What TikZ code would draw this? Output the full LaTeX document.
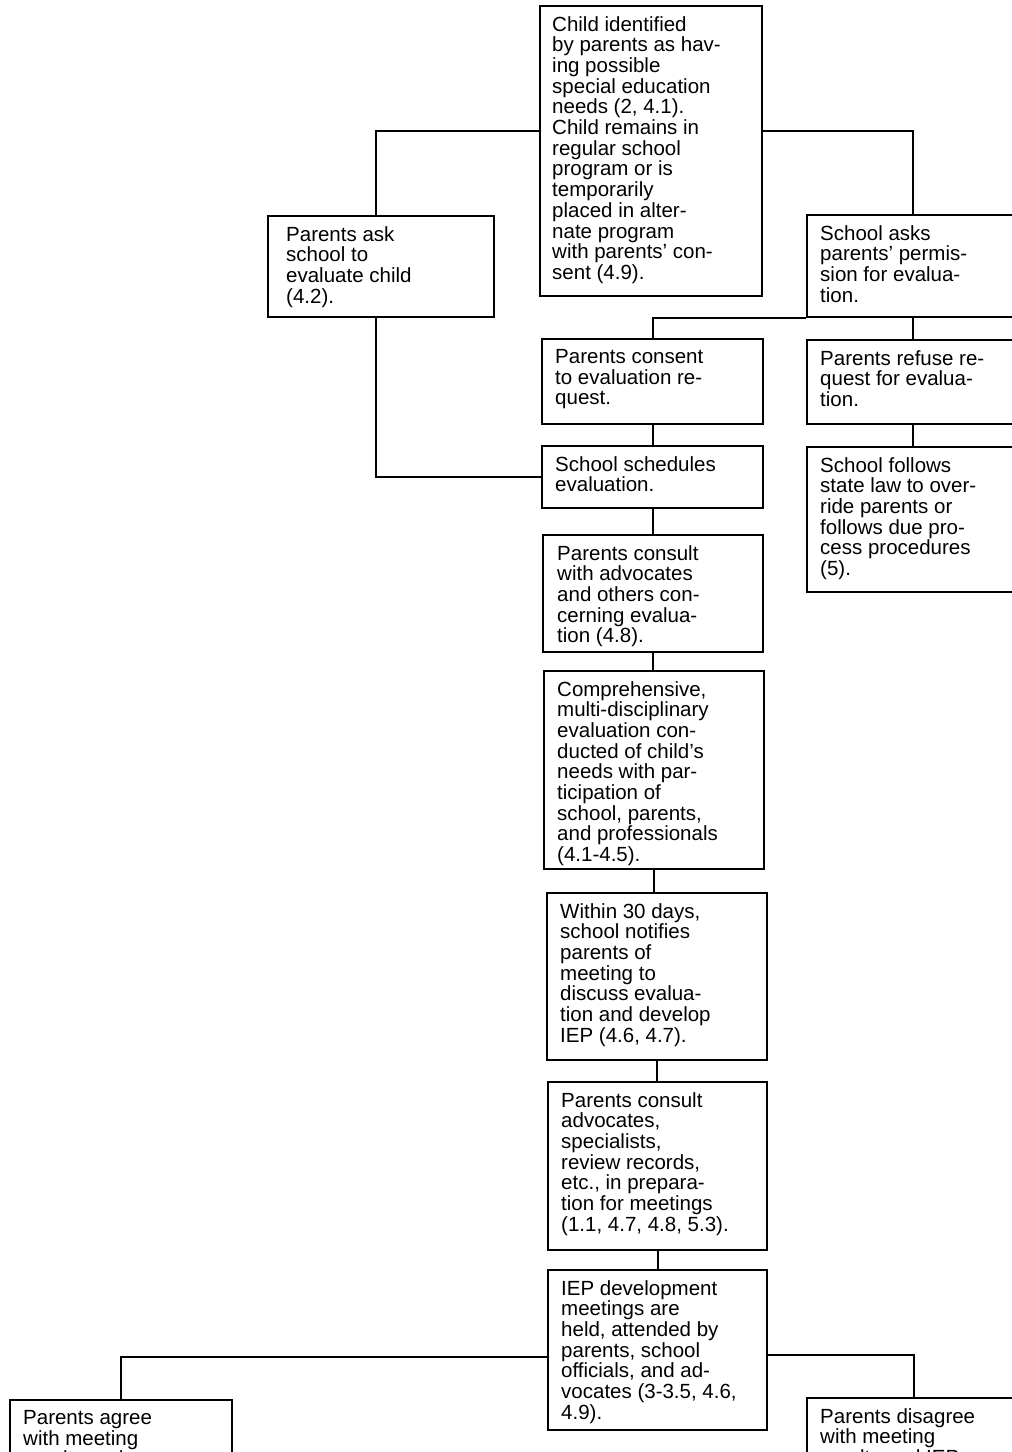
\documentclass[tikz,border=0pt]{standalone}
\usepackage{fontspec}
\setmainfont{Liberation Sans}
\newcommand\boxfont{\fontsize{20.5}{20.7}\selectfont\lineskiplimit=-30pt\relax}
\tikzset{
  box/.style={draw=black, line width=2.2pt, fill=none, inner sep=0pt, anchor=north west},
  txt/.style={inner sep=0pt, anchor=north west, align=left, font=\boxfont},
  link/.style={draw=black, line width=2.2pt},
}
\newcommand\flowbox[7]{%
  \node[box, minimum width=#4pt, minimum height=#5pt] (#1) at (#2,#3) {};
  \node[txt] (#1-t) at ([shift={(#6pt,-11pt)}]#1.north west) {#7};}
\begin{document}
\begin{tikzpicture}[x=1pt,y=-1pt]
\useasboundingbox[fill=white] (0,0) rectangle (1012,1452);
\clip (0,0) rectangle (1012,1452);

\flowbox{top}{539}{5}{222}{290}{13}{Child identified\\by parents as hav-\\ing possible\\special education\\needs (2, 4.1).\\Child remains in\\regular school\\program or is\\temporarily\\placed in alter-\\nate program\\with parents' con-\\sent (4.9).}
\flowbox{ask}{267}{215}{226}{101}{19}{Parents ask\\school to\\evaluate child\\(4.2).}
\flowbox{asks}{806}{214}{212}{102}{14}{School asks\\parents' permis-\\sion for evalua-\\tion.}
\flowbox{consent}{541}{338}{221}{85}{14}{Parents consent\\to evaluation re-\\quest.}
\flowbox{refuse}{806}{339}{212}{84}{14}{Parents refuse re-\\quest for evalua-\\tion.}
\flowbox{sched}{541}{445}{221}{62}{14}{School schedules\\evaluation.}
\flowbox{follows}{806}{446}{212}{145}{14}{School follows\\state law to over-\\ride parents or\\follows due pro-\\cess procedures\\(5).}
\flowbox{consultA}{542}{534}{220}{117}{15}{Parents consult\\with advocates\\and others con-\\cerning evalua-\\tion (4.8).}
\flowbox{compre}{543}{670}{220}{198}{14}{Comprehensive,\\multi-disciplinary\\evaluation con-\\ducted of child's\\needs with par-\\ticipation of\\school, parents,\\and professionals\\(4.1-4.5).}
\flowbox{within}{546}{892}{220}{167}{14}{Within 30 days,\\school notifies\\parents of\\meeting to\\discuss evalua-\\tion and develop\\IEP (4.6, 4.7).}
\flowbox{consultB}{547}{1081}{219}{168}{14}{Parents consult\\advocates,\\specialists,\\review records,\\etc., in prepara-\\tion for meetings\\(1.1, 4.7, 4.8, 5.3).}
\flowbox{iep}{547}{1269}{219}{160}{14}{IEP development\\meetings are\\held, attended by\\parents, school\\officials, and ad-\\vocates (3-3.5, 4.6,\\4.9).}
\flowbox{agree}{9}{1399}{222}{110}{14}{Parents agree\\with meeting\\results and}
\flowbox{disagree}{806}{1397}{214}{110}{14}{Parents disagree\\with meeting\\results and IEP}

% connectors
\draw[link] ([yshift=20pt]top.west) -| ([xshift=-5pt]ask.north);
\draw[link] ([yshift=20pt]top.east) -| (asks.north);
\draw[link] (asks.south west) -| (consent.north);
\draw[link] (asks.south) -- (refuse.north);
\draw[link] (refuse.south) -- (follows.north);
\draw[link] (consent.south) -- (sched.north);
\draw[link] ([xshift=-5pt]ask.south) |- (sched.west);
\draw[link] (sched.south) -- (sched.south |- consultA.north);
\draw[link] (consultA.south) -- (consultA.south |- compre.north);
\draw[link] (compre.south) -- (compre.south |- within.north);
\draw[link] (within.south) -- (within.south |- consultB.north);
\draw[link] (consultB.south) -- (iep.north);
\draw[link] ([yshift=-7pt]iep.west) -| (agree.north);
\draw[link] ([yshift=-5pt]iep.east) -| (disagree.north);
\end{tikzpicture}
\end{document}
